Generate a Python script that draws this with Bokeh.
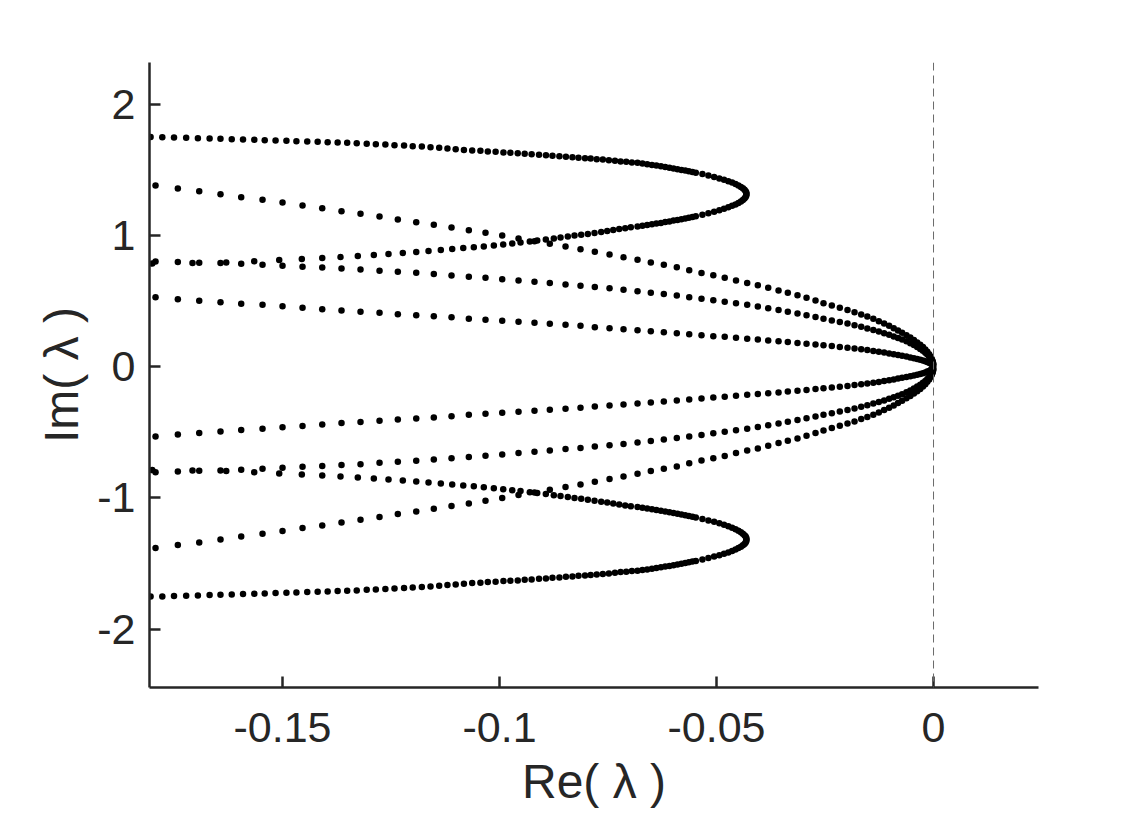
from bokeh.plotting import figure
from bokeh.models import Span, FixedTicker, ColumnDataSource, Title
from bokeh.embed import file_html
from bokeh.resources import INLINE

# ---------------- data ----------------
# Real parts shared by the three branches that converge at the origin
re_k = [-0.17926, -0.17412, -0.16919, -0.16429, -0.15952, -0.15461, -0.15000, -0.14539, -0.14085, -0.13641,
        -0.13203, -0.12765, -0.12343, -0.11919, -0.11514, -0.11106, -0.10707, -0.10323, -0.09938, -0.09562,
        -0.09194, -0.08841, -0.08479, -0.08134, -0.07804, -0.07465, -0.07143, -0.06820, -0.06514, -0.06214,
        -0.05915, -0.05629, -0.05346, -0.05074, -0.04811, -0.04551, -0.04293, -0.04048, -0.03809, -0.03571,
        -0.03357, -0.03134, -0.02926, -0.02719, -0.02535, -0.02343, -0.02159, -0.01982, -0.01820, -0.01666,
        -0.01525, -0.01387, -0.01260, -0.01138, -0.01023, -0.00917, -0.00818, -0.00724, -0.00624, -0.00535,
        -0.00452, -0.00376, -0.00306, -0.00244, -0.00189, -0.00143, -0.00101, -0.00067, -0.00039, -0.00018,
        -0.00007]
# Imaginary parts (upper half) of branch starting at Im ~ 1.38
im_b = [1.3819, 1.3590, 1.3384, 1.3155, 1.2927, 1.2729, 1.2523, 1.2294, 1.2088, 1.1860,
        1.1662, 1.1456, 1.1227, 1.1021, 1.0823, 1.0617, 1.0412, 1.0213, 1.0008, 0.9779,
        0.9573, 0.9375, 0.9169, 0.8963, 0.8765, 0.8560, 0.8354, 0.8155, 0.7950, 0.7774,
        0.7591, 0.7355, 0.7149, 0.6974, 0.6791, 0.6578, 0.6387, 0.6220, 0.6021, 0.5816,
        0.5640, 0.5457, 0.5259, 0.5053, 0.4848, 0.4672, 0.4497, 0.4329, 0.4162, 0.3986,
        0.3834, 0.3659, 0.3476, 0.3300, 0.3125, 0.2942, 0.2767, 0.2591, 0.2401, 0.2226,
        0.2043, 0.1860, 0.1684, 0.1502, 0.1326, 0.1143, 0.0960, 0.0785, 0.0602, 0.0427,
        0.0244]
# branch starting at Im ~ 0.80
im_d = [0.8034, 0.7980, 0.7927, 0.7904, 0.7851, 0.7774, 0.7698, 0.7622, 0.7569, 0.7492,
        0.7424, 0.7317, 0.7241, 0.7165, 0.7066, 0.6966, 0.6867, 0.6784, 0.6677, 0.6578,
        0.6479, 0.6387, 0.6273, 0.6181, 0.6082, 0.5983, 0.5877, 0.5762, 0.5648, 0.5549,
        0.5434, 0.5305, 0.5191, 0.5069, 0.4954, 0.4840, 0.4726, 0.4596, 0.4459, 0.4329,
        0.4192, 0.4063, 0.3925, 0.3796, 0.3659, 0.3537, 0.3415, 0.3293, 0.3171, 0.3049,
        0.2927, 0.2805, 0.2683, 0.2561, 0.2439, 0.2317, 0.2203, 0.2088, 0.1944, 0.1799,
        0.1654, 0.1509, 0.1364, 0.1220, 0.1075, 0.0930, 0.0777, 0.0633, 0.0488, 0.0343,
        0.0198]
# branch starting at Im ~ 0.53
im_e = [0.5305, 0.5152, 0.5038, 0.4924, 0.4809, 0.4726, 0.4611, 0.4505, 0.4390, 0.4291,
        0.4200, 0.4116, 0.4009, 0.3933, 0.3857, 0.3773, 0.3659, 0.3582, 0.3506, 0.3430,
        0.3354, 0.3277, 0.3201, 0.3125, 0.3018, 0.2942, 0.2866, 0.2790, 0.2713, 0.2637,
        0.2561, 0.2485, 0.2409, 0.2332, 0.2287, 0.2210, 0.2134, 0.2073, 0.2012, 0.1951,
        0.1890, 0.1822, 0.1761, 0.1700, 0.1639, 0.1578, 0.1517, 0.1456, 0.1395, 0.1334,
        0.1273, 0.1212, 0.1151, 0.1082, 0.1021, 0.0960, 0.0899, 0.0838, 0.0777, 0.0716,
        0.0655, 0.0602, 0.0541, 0.0488, 0.0427, 0.0366, 0.0312, 0.0252, 0.0198, 0.0137,
        0.0076]

# Folded branch (C-shape): outer arm, turning tip, inner arm
outer_re = [-0.1804, -0.1777, -0.1750, -0.1722, -0.1695, -0.1668, -0.1643, -0.1617, -0.1591, -0.1565,
            -0.1541, -0.1516, -0.1491, -0.1468, -0.1443, -0.1419, -0.1396, -0.1373, -0.1351, -0.1329,
            -0.1306, -0.1285, -0.1263, -0.1242, -0.1220, -0.1200, -0.1179, -0.1159, -0.1139, -0.1120,
            -0.1101, -0.1082, -0.1063, -0.1044, -0.1027, -0.1009, -0.0991, -0.0975, -0.0958, -0.0942,
            -0.0926, -0.0909, -0.0893, -0.0878, -0.0862, -0.0847, -0.0832, -0.0818, -0.0803, -0.0790,
            -0.0776, -0.0762, -0.0748, -0.0734, -0.0721, -0.0708, -0.0695, -0.0682]
outer_im = [1.7510, 1.7500, 1.7477, 1.7454, 1.7424, 1.7401, 1.7378, 1.7348, 1.7325, 1.7302,
            1.7271, 1.7248, 1.7226, 1.7195, 1.7172, 1.7150, 1.7119, 1.7096, 1.7073, 1.7043,
            1.6997, 1.6966, 1.6944, 1.6890, 1.6867, 1.6814, 1.6791, 1.6738, 1.6692, 1.6639,
            1.6585, 1.6532, 1.6487, 1.6464, 1.6410, 1.6387, 1.6334, 1.6311, 1.6281, 1.6235,
            1.6204, 1.6159, 1.6128, 1.6082, 1.6052, 1.6006, 1.5976, 1.5930, 1.5900, 1.5877,
            1.5823, 1.5800, 1.5747, 1.5701, 1.5648, 1.5625, 1.5572, 1.5549]
tip_re = [-0.06707, -0.06597, -0.06488, -0.06385, -0.06281, -0.06182, -0.06085, -0.05991, -0.05899, -0.05809,
          -0.05721, -0.05638, -0.05555, -0.05477, -0.05325, -0.05187, -0.05055, -0.04935, -0.04827, -0.04728,
          -0.04641, -0.04562, -0.04495, -0.04438, -0.04392, -0.04355, -0.04329, -0.04313, -0.04309,
          -0.04313, -0.04329, -0.04355, -0.04392, -0.04438, -0.04495, -0.04562, -0.04641, -0.04728, -0.04827,
          -0.04935, -0.05055, -0.05187, -0.05325, -0.05477, -0.05555, -0.05638, -0.05721, -0.05809, -0.05899,
          -0.05991, -0.06085, -0.06182, -0.06281, -0.06385, -0.06488, -0.06597, -0.06707, -0.06820]
tip_im = [1.5496, 1.5442, 1.5389, 1.5335, 1.5282, 1.5229, 1.5175, 1.5122, 1.5061, 1.5008,
          1.4954, 1.4901, 1.4848, 1.4794, 1.4688, 1.4581, 1.4467, 1.4360, 1.4253, 1.4147,
          1.4040, 1.3925, 1.3819, 1.3712, 1.3605, 1.3499, 1.3384, 1.3277, 1.3171,
          1.3057, 1.2942, 1.2835, 1.2721, 1.2607, 1.2492, 1.2378, 1.2271, 1.2157, 1.2043,
          1.1928, 1.1814, 1.1707, 1.1593, 1.1479, 1.1425, 1.1364, 1.1311, 1.1250, 1.1197,
          1.1143, 1.1082, 1.1029, 1.0968, 1.0915, 1.0861, 1.0800, 1.0747, 1.0686]
inner_re = [-0.06975, -0.07104, -0.07242, -0.07380, -0.07518, -0.07657, -0.07811, -0.07965, -0.08118, -0.08272,
            -0.08426, -0.08594, -0.08749, -0.08933, -0.09131, -0.09302, -0.09516, -0.09707, -0.09915, -0.10131,
            -0.10362, -0.10592, -0.10836, -0.11090, -0.11353, -0.11636, -0.11919, -0.12228, -0.12558, -0.12896,
            -0.13265, -0.13664, -0.14085, -0.14555, -0.15076, -0.15652, -0.16297, -0.17074, -0.18002]
inner_im = [1.0633, 1.0564, 1.0496, 1.0419, 1.0343, 1.0282, 1.0206, 1.0130, 1.0061, 1.0000,
            0.9931, 0.9855, 0.9787, 0.9703, 0.9619, 0.9558, 0.9467, 0.9405, 0.9329, 0.9253,
            0.9177, 0.9108, 0.9047, 0.8971, 0.8895, 0.8819, 0.8742, 0.8666, 0.8590, 0.8514,
            0.8437, 0.8361, 0.8285, 0.8209, 0.8133, 0.8041, 0.7950, 0.7912, 0.7873]

x_ticks = [-0.15, -0.1, -0.05, 0]
x_tick_labels = ["-0.15", "-0.1", "-0.05", "0"]
y_ticks = [-2, -1, 0, 1, 2]
y_tick_labels = ["-2", "-1", "0", "1", "2"]
x_title = "Re( \u03bb )"
y_title = "Im( \u03bb )"

# ---------------- assemble (eigenvalues come in conjugate pairs) ----------------
fold_re = outer_re + tip_re + inner_re
fold_im = outer_im + tip_im + inner_im
xs, ys = [], []
for im in (im_b, im_d, im_e):
    xs += re_k + re_k
    ys += im + [-v for v in im]
xs += fold_re + fold_re
ys += fold_im + [-v for v in fold_im]
src = ColumnDataSource(data=dict(x=xs, y=ys))

INK = "#262626"
p = figure(width=1148, height=815, x_range=(-0.18065, 0.02419), y_range=(-2.4444, 2.3194),
           output_backend="svg", toolbar_location=None,
           min_border_left=149, min_border_right=110, min_border_top=62, min_border_bottom=128)
p.outline_line_color = None
p.grid.visible = False
p.background_fill_color = "white"
p.border_fill_color = "white"

p.add_layout(Span(location=0, dimension="height", line_color="#6a6a6a",
                  line_width=1, line_dash="8 5"))
p.scatter("x", "y", source=src, size=6.5, color="black", line_width=0)

p.xaxis.ticker = FixedTicker(ticks=x_ticks)
p.xaxis.major_label_overrides = dict(zip(x_ticks, x_tick_labels))
p.yaxis.ticker = FixedTicker(ticks=y_ticks)
p.yaxis.major_label_overrides = dict(zip(y_ticks, y_tick_labels))
p.yaxis.axis_label = y_title

for ax in (p.xaxis[0], p.yaxis[0]):
    ax.axis_line_color = INK
    ax.axis_line_width = 2.5
    ax.major_tick_line_color = INK
    ax.major_tick_line_width = 2.5
    ax.major_tick_in = 11
    ax.major_tick_out = 0
    ax.minor_tick_line_color = None
    ax.major_label_text_font = "Liberation Sans"
    ax.major_label_text_font_size = "43px"
    ax.major_label_text_color = INK
    ax.axis_label_text_font = "Liberation Sans"
    ax.axis_label_text_font_size = "48px"
    ax.axis_label_text_font_style = "normal"
    ax.axis_label_text_color = INK
p.xaxis.major_label_standoff = 25
p.yaxis.major_label_standoff = 14
p.yaxis.axis_label_standoff = 6

# x-axis title as a panel below the axis
p.add_layout(Title(text=x_title, align="center", vertical_align="bottom",
                   text_font="Liberation Sans", text_font_size="48px",
                   text_font_style="normal", text_color=INK, standoff=16), "below")

open("out.html", "w").write(file_html(p, INLINE))
